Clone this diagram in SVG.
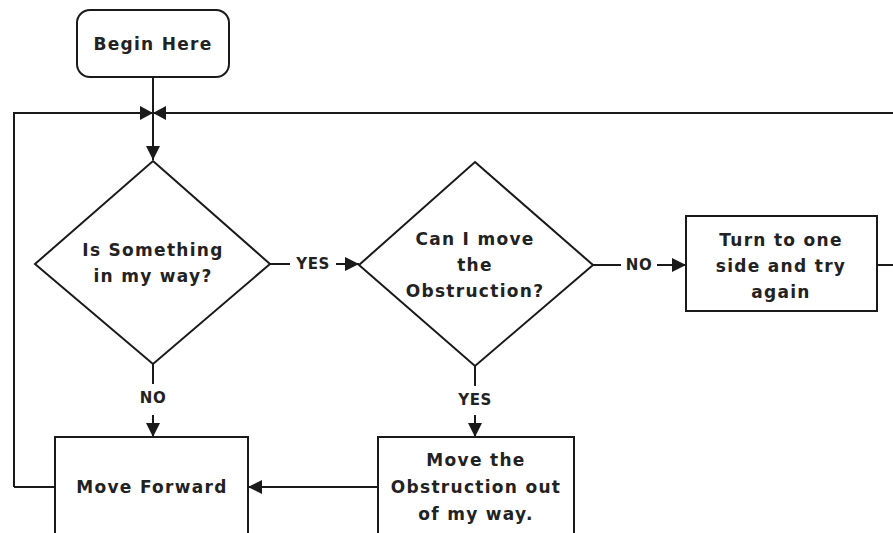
<svg xmlns="http://www.w3.org/2000/svg" width="893" height="533" viewBox="0 0 893 533">
  <defs>
    <marker id="arrow" viewBox="0 0 10 10" refX="10" refY="5" markerWidth="14" markerHeight="14" markerUnits="userSpaceOnUse" orient="auto">
      <path d="M0,0 L10,5 L0,10 z" fill="#1a1a1a"/>
    </marker>
  </defs>
  <style>
    .shape { fill: #ffffff; stroke: #1a1a1a; stroke-width: 2; }
    .line { fill: none; stroke: #1a1a1a; stroke-width: 2; }
    .txt { font-family: "DejaVu Sans", "Liberation Sans", sans-serif; font-size: 17px; font-weight: bold; fill: #222222; text-anchor: middle; letter-spacing: 1.3px; }
    .lbl { font-family: "DejaVu Sans", "Liberation Sans", sans-serif; font-size: 15px; font-weight: bold; fill: #222222; text-anchor: middle; letter-spacing: 0.5px; }
  </style>
  <rect width="893" height="533" fill="#ffffff"/>

  <g id="connectors">
    <!-- start to first decision, merging with the return loop -->
    <path class="line" d="M153,77 V160" marker-end="url(#arrow)"/>
    <path class="line" d="M14,487 H55 M14,487 V113 H893"/>
    <path d="M140,106 L153,113 L140,120 z" fill="#1a1a1a"/>
    <path d="M166,106 L153,113 L166,120 z" fill="#1a1a1a"/>
    <!-- decision 1: YES -->
    <path class="line" d="M270,264 H290"/>
    <path class="line" d="M336,264 H359" marker-end="url(#arrow)"/>
    <text class="lbl" x="313" y="269">YES</text>
    <!-- decision 1: NO -->
    <path class="line" d="M153,364 V384"/>
    <path class="line" d="M153,415 V437" marker-end="url(#arrow)"/>
    <text class="lbl" x="153" y="403">NO</text>
    <!-- decision 2: NO -->
    <path class="line" d="M593,265 H621"/>
    <path class="line" d="M657,265 H686" marker-end="url(#arrow)"/>
    <text class="lbl" x="639" y="270">NO</text>
    <!-- decision 2: YES -->
    <path class="line" d="M475,366 V386"/>
    <path class="line" d="M475,415 V437" marker-end="url(#arrow)"/>
    <text class="lbl" x="475" y="405">YES</text>
    <!-- move obstruction back to move forward -->
    <path class="line" d="M378,487 H248" marker-end="url(#arrow)"/>
    <!-- turn and retry, leaving to the right -->
    <path class="line" d="M877,265 H893"/>
  </g>

  <g id="begin">
    <rect class="shape" x="77" y="10" width="152" height="67" rx="13"/>
    <text class="txt" x="153" y="50">Begin Here</text>
  </g>

  <g id="decision-obstacle">
    <polygon class="shape" points="153,161 270,264 153,364 35,264"/>
    <text class="txt" x="153" y="256">Is Something</text>
    <text class="txt" x="153" y="282">in my way?</text>
  </g>

  <g id="decision-move">
    <polygon class="shape" points="475,162 593,265 475,366 359,265"/>
    <text class="txt" x="475" y="245">Can I move</text>
    <text class="txt" x="475" y="271">the</text>
    <text class="txt" x="475" y="297">Obstruction?</text>
  </g>

  <g id="turn">
    <rect class="shape" x="686" y="216" width="191" height="95"/>
    <text class="txt" x="781" y="246">Turn to one</text>
    <text class="txt" x="781" y="272">side and try</text>
    <text class="txt" x="781" y="298">again</text>
  </g>

  <g id="move-forward">
    <rect class="shape" x="55" y="437" width="193" height="110"/>
    <text class="txt" x="152" y="493">Move Forward</text>
  </g>

  <g id="move-obstruction">
    <rect class="shape" x="378" y="437" width="196" height="110"/>
    <text class="txt" x="476" y="466">Move the</text>
    <text class="txt" x="476" y="493">Obstruction out</text>
    <text class="txt" x="476" y="520">of my way.</text>
  </g>
</svg>
